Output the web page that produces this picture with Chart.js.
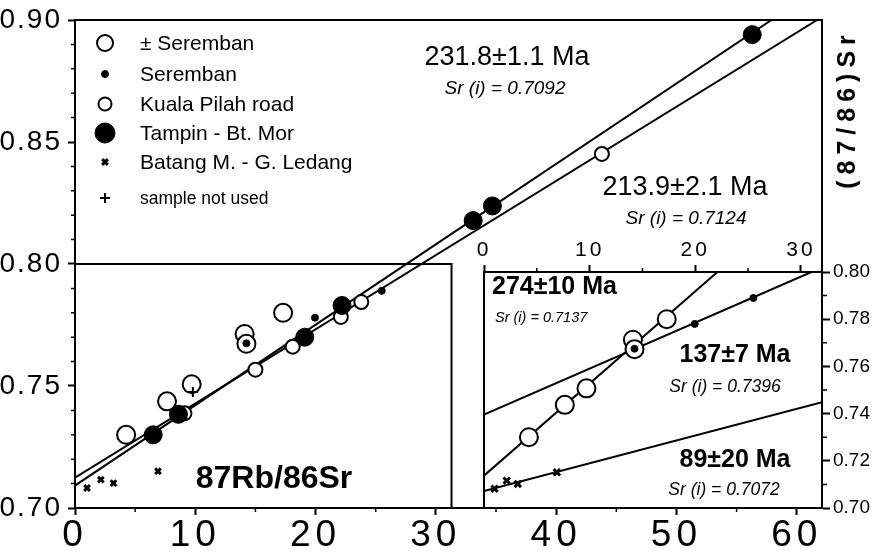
<!DOCTYPE html>
<html>
<head>
<meta charset="utf-8">
<script src="https://cdn.jsdelivr.net/npm/chart.js@4/dist/chart.umd.min.js"></script>
<style>
  html, body { margin: 0; padding: 0; background: #fff; }
  #wrap { position: relative; width: 874px; height: 559px; overflow: hidden; }
  #main { position: absolute; left: 0; top: 0; }
  #inset { position: absolute; left: 454px; top: 230px; }
</style>
</head>
<body>
<div id="wrap">
  <canvas id="main" width="874" height="559"></canvas>
  <canvas id="inset" width="420" height="295"></canvas>
</div>
<script>
// ---- sample data: 87Rb/86Sr (x) vs 87Sr/86Sr (y) ----
// ± Seremban (large open circles)
const pmSerembanX = [4.25, 7.65, 9.7, 14.1, 14.25, 17.3];
const pmSerembanY = [0.7300, 0.7437, 0.7507, 0.7713, 0.7673, 0.7800];
// Seremban (small dots)
const serembanX = [14.25, 19.95, 25.5];
const serembanY = [0.7675, 0.7780, 0.7890];
// Kuala Pilah road (small open circles)
const kualaX = [9.1, 15.0, 18.1, 22.1, 23.8, 43.8];
const kualaY = [0.7388, 0.7567, 0.7661, 0.7783, 0.7844, 0.8451];
// Tampin - Bt. Mor (large dots)
const tampinX = [6.5, 8.6, 19.1, 22.2, 33.1, 34.7, 56.3];
const tampinY = [0.7300, 0.7384, 0.7700, 0.7830, 0.8178, 0.8238, 0.8940];
// Batang M. - G. Ledang (crosses)
const batangX = [1.0, 2.15, 3.2, 6.9];
const batangY = [0.7082, 0.7116, 0.7102, 0.7151];
// sample not used
const unusedX = [9.8];
const unusedY = [0.7475];

// ---- isochrons (end points) ----
const isoTampinX = [0, 57.9];   // 231.8 ± 1.1 Ma
const isoTampinY = [0.7092, 0.9000];
const isoKualaX = [0, 61.7];    // 213.9 ± 2.1 Ma
const isoKualaY = [0.7124, 0.9000];
const iso274X = [0, 22.1];      // 274 ± 10 Ma
const iso274Y = [0.7137, 0.8000];
const iso137X = [0, 31.0];      // 137 ± 7 Ma
const iso137Y = [0.7396, 0.8000];
const iso89X = [0, 32.0];       // 89 ± 20 Ma
const iso89Y = [0.7072, 0.7448];

// ---- ticks ----
const mainXTicks = [0, 10, 20, 30, 40, 50, 60];
const mainXMinor = [5, 15, 25, 35, 45, 55];
const mainYTicks = [0.70, 0.75, 0.80, 0.85, 0.90];
const mainYMinor = [0.71, 0.72, 0.73, 0.74, 0.76, 0.77, 0.78, 0.79,
                    0.81, 0.82, 0.83, 0.84, 0.86, 0.87, 0.88, 0.89];
const insetXTicks = [0, 10, 20, 30];
const insetXMinor = [5, 15, 25];
const insetYTicks = [0.70, 0.72, 0.74, 0.76, 0.78, 0.80];
const insetYMinor = [0.71, 0.73, 0.75, 0.77, 0.79];

// lower-left frame of the main plot (x limit, y limit)
const boxX = 31.3;
const boxY = 0.80;

const FONT = '"Liberation Sans", Arial, Helvetica, sans-serif';
Chart.defaults.font.family = FONT;
Chart.defaults.color = '#000';

const pts = (xs, ys) => xs.map((x, i) => ({ x: x, y: ys[i] }));

function lineSet(xs, ys) {
  return { data: pts(xs, ys), showLine: true, borderColor: '#000', borderWidth: 2,
           pointRadius: 0, fill: false, order: 10 };
}
function openCircles(xs, ys, r) {
  return { data: pts(xs, ys), pointStyle: 'circle', pointRadius: r,
           pointBackgroundColor: '#fff', pointBorderColor: '#000', pointBorderWidth: 2,
           showLine: false, order: 5 };
}
function dots(xs, ys, r, order) {
  return { data: pts(xs, ys), pointStyle: 'circle', pointRadius: r,
           pointBackgroundColor: '#000', pointBorderColor: '#000', pointBorderWidth: 1,
           showLine: false, order: order };
}
function crosses(xs, ys, style, r, w) {
  return { data: pts(xs, ys), pointStyle: style, pointRadius: r,
           pointBorderColor: '#000', pointBackgroundColor: '#000', pointBorderWidth: w,
           showLine: false, order: 2 };
}

function minorTicks(ctx, scale, values, len, side) {
  ctx.save();
  ctx.strokeStyle = '#000';
  ctx.lineWidth = 1.5;
  ctx.beginPath();
  values.forEach(v => {
    const p = scale.getPixelForValue(v);
    if (side === 'bottom') { ctx.moveTo(p, scale.top); ctx.lineTo(p, scale.top + len); }
    if (side === 'top') { ctx.moveTo(p, scale.bottom); ctx.lineTo(p, scale.bottom - len); }
    if (side === 'left') { ctx.moveTo(scale.right, p); ctx.lineTo(scale.right - len, p); }
    if (side === 'right') { ctx.moveTo(scale.left, p); ctx.lineTo(scale.left + len, p); }
  });
  ctx.stroke();
  ctx.restore();
}

function text(ctx, str, x, y, font, align) {
  ctx.font = font;
  ctx.textAlign = align || 'center';
  ctx.textBaseline = 'middle';
  ctx.fillStyle = '#000';
  ctx.fillText(str, x, y);
}

// legend rows: marker style and label
const legendRows = [
  { label: '\u00B1 Seremban', style: 'circle', r: 8, fill: '#fff', w: 2, font: '21px ' + FONT },
  { label: 'Seremban', style: 'circle', r: 3.5, fill: '#000', w: 1, font: '21px ' + FONT },
  { label: 'Kuala Pilah road', style: 'circle', r: 6.5, fill: '#fff', w: 2, font: '21px ' + FONT },
  { label: 'Tampin - Bt. Mor', style: 'circle', r: 10, fill: '#000', w: 1, font: '21px ' + FONT },
  { label: 'Batang M. - G. Ledang', style: 'crossRot', r: 4, fill: '#000', w: 3, font: '21px ' + FONT },
  { label: 'sample not used', style: 'cross', r: 5, fill: '#000', w: 2, font: '17.5px ' + FONT }
];
const legendRowY = [43, 74, 104, 133, 162, 198];

const mainDecor = {
  id: 'mainDecor',
  beforeDraw(chart) {
    // y tick labels are drawn with a little tracking
    chart.ctx.letterSpacing = '2px';
  },
  beforeDatasetsDraw(chart) {
    const { ctx, chartArea: a, scales: { x, y } } = chart;
    ctx.letterSpacing = '0px';
    ctx.save();
    ctx.strokeStyle = '#000';
    ctx.lineWidth = 2;
    ctx.beginPath();
    // top and right frame
    ctx.moveTo(a.left, a.top); ctx.lineTo(a.right, a.top); ctx.lineTo(a.right, a.bottom);
    // lower-left frame
    const bx = x.getPixelForValue(boxX), by = y.getPixelForValue(boxY);
    ctx.moveTo(a.left, by); ctx.lineTo(bx, by); ctx.lineTo(bx, a.bottom);
    ctx.stroke();
    ctx.restore();
    minorTicks(ctx, x, mainXMinor, 4, 'bottom');
    minorTicks(ctx, y, mainYMinor, 4, 'left');
  },
  afterDatasetsDraw(chart) {
    const { ctx } = chart;
    ctx.save();
    // legend
    legendRows.forEach((row, i) => {
      const cy = legendRowY[i];
      ctx.fillStyle = row.fill;
      ctx.strokeStyle = '#000';
      ctx.lineWidth = row.w;
      Chart.helpers.drawPoint(ctx, { pointStyle: row.style, radius: row.r, rotation: 0, borderWidth: row.w }, 105, cy);
      text(ctx, row.label, 140, cy + 1, row.font, 'left');
    });
    // isochron ages
    text(ctx, '231.8\u00B11.1 Ma', 507, 58, '27px ' + FONT);
    text(ctx, 'Sr (i) = 0.7092', 505, 89, 'italic 19px ' + FONT);
    text(ctx, '213.9\u00B12.1 Ma', 685, 188, '27px ' + FONT);
    text(ctx, 'Sr (i) = 0.7124', 686, 219, 'italic 19px ' + FONT);
    // axis titles
    text(ctx, '87Rb/86Sr', 274, 479, 'bold 32px ' + FONT);
    ctx.save();
    ctx.translate(848, 112);
    ctx.rotate(-Math.PI / 2);
    ctx.letterSpacing = '6px';
    text(ctx, '(87/86)Sr', 3, 0, 'bold 25px ' + FONT);
    ctx.restore();
    ctx.restore();
    // x tick labels (drawn after this hook) are widely tracked
    ctx.letterSpacing = '5px';
  },
  afterDraw(chart) {
    chart.ctx.letterSpacing = '0px';
  }
};

const insetDecor = {
  id: 'insetDecor',
  beforeDatasetsDraw(chart) {
    const { ctx, chartArea: a, scales: { x, y } } = chart;
    ctx.save();
    ctx.strokeStyle = '#000';
    ctx.lineWidth = 2;
    ctx.beginPath();
    ctx.moveTo(a.left, a.top); ctx.lineTo(a.left, a.bottom);
    ctx.stroke();
    ctx.restore();
    minorTicks(ctx, x, insetXMinor, 4, 'top');
    minorTicks(ctx, y, insetYMinor, 5, 'right');
  },
  afterDatasetsDraw(chart) {
    const { ctx } = chart;
    const ox = 454, oy = 230;
    ctx.save();
    text(ctx, '274\u00B110 Ma', 492 - ox, 287 - oy, 'bold 25px ' + FONT, 'left');
    text(ctx, 'Sr (i) = 0.7137', 495 - ox, 318 - oy, 'italic 14.5px ' + FONT, 'left');
    text(ctx, '137\u00B17 Ma', 735 - ox, 355 - oy, 'bold 25px ' + FONT);
    text(ctx, 'Sr (i) = 0.7396', 725 - ox, 387 - oy, 'italic 17.5px ' + FONT);
    text(ctx, '89\u00B120 Ma', 735 - ox, 460 - oy, 'bold 25px ' + FONT);
    text(ctx, 'Sr (i) = 0.7072', 724 - ox, 490 - oy, 'italic 17.5px ' + FONT);
    ctx.restore();
    // top tick labels (drawn after this hook) are tracked
    ctx.letterSpacing = '3px';
  },
  afterDraw(chart) {
    chart.ctx.letterSpacing = '0px';
  }
};

const axisGrid = { drawOnChartArea: false, tickLength: 7, tickWidth: 2, tickColor: '#000', color: '#000' };
const axisBorder = { color: '#000', width: 2 };

new Chart(document.getElementById('main'), {
  type: 'scatter',
  data: {
    datasets: [
      lineSet(isoTampinX, isoTampinY),
      lineSet(isoKualaX, isoKualaY),
      openCircles(pmSerembanX, pmSerembanY, 9),
      openCircles(kualaX, kualaY, 7),
      dots(tampinX, tampinY, 9, 4),
      dots(serembanX, serembanY, 3.5, 1),
      crosses(batangX, batangY, 'crossRot', 4, 3),
      crosses(unusedX, unusedY, 'cross', 5, 2)
    ]
  },
  options: {
    responsive: false,
    devicePixelRatio: 1,
    animation: false,
    events: [],
    layout: { padding: { top: 15, right: 52, left: 0, bottom: 0 } },
    plugins: { legend: { display: false }, tooltip: { enabled: false } },
    scales: {
      x: {
        type: 'linear', min: 0, max: 62.1,
        afterFit(s) { s.height = 51; },
        afterBuildTicks(s) { s.ticks = mainXTicks.map(v => ({ value: v })); },
        ticks: { font: { size: 37, lineHeight: 1 }, color: '#000', padding: 2, z: 1,
                 maxRotation: 0, autoSkip: false, callback: v => String(v) },
        grid: axisGrid, border: axisBorder
      },
      y: {
        type: 'linear', min: 0.70, max: 0.90,
        afterFit(s) { s.width = 75; },
        afterBuildTicks(s) { s.ticks = mainYTicks.map(v => ({ value: v })); },
        ticks: { font: { size: 28, lineHeight: 1 }, color: '#000', padding: 6,
                 autoSkip: false, callback: v => v.toFixed(2) },
        grid: axisGrid, border: axisBorder
      }
    }
  },
  plugins: [mainDecor]
});

new Chart(document.getElementById('inset'), {
  type: 'scatter',
  data: {
    datasets: [
      lineSet(iso274X, iso274Y),
      lineSet(iso137X, iso137Y),
      lineSet(iso89X, iso89Y),
      openCircles(pmSerembanX, pmSerembanY, 9),
      dots(serembanX, serembanY, 3.5, 1),
      crosses(batangX, batangY, 'crossRot', 4.5, 3)
    ]
  },
  options: {
    responsive: false,
    devicePixelRatio: 1,
    animation: false,
    events: [],
    layout: { padding: { top: 0, right: 0, left: 30, bottom: 17 } },
    plugins: { legend: { display: false }, tooltip: { enabled: false } },
    scales: {
      x: {
        type: 'linear', position: 'top', min: 0, max: 32,
        afterFit(s) { s.height = 42; },
        afterBuildTicks(s) { s.ticks = insetXTicks.map(v => ({ value: v })); },
        ticks: { font: { size: 21, lineHeight: 1 }, color: '#000', padding: 4, z: 1,
                 maxRotation: 0, autoSkip: false, callback: v => String(v) },
        grid: axisGrid, border: axisBorder
      },
      y: {
        type: 'linear', position: 'right', min: 0.70, max: 0.80,
        afterFit(s) { s.width = 52; },
        afterBuildTicks(s) { s.ticks = insetYTicks.map(v => ({ value: v })); },
        ticks: { font: { size: 19, lineHeight: 1 }, color: '#000', padding: 3,
                 autoSkip: false, callback: v => v.toFixed(2) },
        grid: Object.assign({}, axisGrid, { tickLength: 8 }), border: axisBorder
      }
    }
  },
  plugins: [insetDecor]
});
</script>
</body>
</html>
